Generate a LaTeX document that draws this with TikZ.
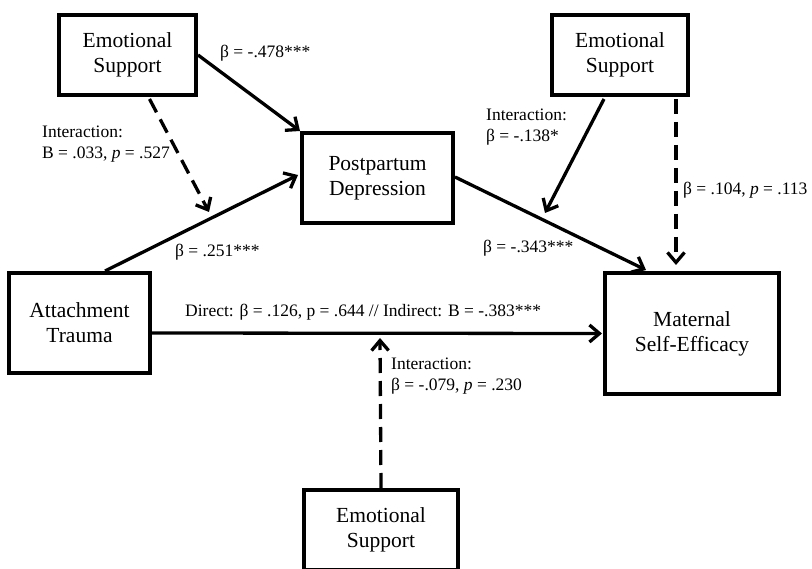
\documentclass[tikz,border=0pt]{standalone}
\usepackage{fontspec}
\setmainfont{Liberation Serif}
\usetikzlibrary{arrows.meta,calc}
\begin{document}
\begin{tikzpicture}[x=1pt,y=-1pt,
 box/.style={draw, line width=4pt, align=center, inner sep=0pt, font=\fontsize{21.5}{25}\selectfont},
 lbl/.style={anchor=west, align=left, inner sep=0pt, font=\fontsize{17.5}{21.5}\selectfont},
 arr/.style={line width=3.3pt, -{Straight Barb[length=10pt,width=17pt]}},
 dsh/.style={arr, dash pattern=on 15pt off 8pt}]
\clip (0,0) rectangle (812,569);
\fill[white] (0,0) rectangle (812,569);

\node[box, minimum width=137pt, minimum height=80pt] (es1) at (127.5,55) {Emotional\\Support};
\node[box, minimum width=151pt, minimum height=90pt] (ppd) at (377.5,178) {Postpartum\\Depression};
\node[box, minimum width=136pt, minimum height=80pt] (es2) at (620,55) {Emotional\\Support};
\node[box, minimum width=141pt, minimum height=100pt] (at) at (79.5,323) {Attachment\\Trauma};
\node[box, minimum width=174pt, minimum height=121pt] (mse) at (692,333.5) {Maternal\\Self-Efficacy};
\node[box, minimum width=154pt, minimum height=80pt] (es3) at (381,530) {Emotional\\Support};

\coordinate (c1) at (209,212);
\coordinate (c2) at (545,213);
\coordinate (c3) at (380,338);

\draw[arr] (es1.east) -- (ppd.north west);
\draw[dsh] ($(es1.south)+(22,2)$) -- (c1);
\draw[arr] ($(at.north)+(25.5,0)$) -- ($(ppd.west)+(-2,-3)$);
\draw[arr] ($(ppd.east)+(0,-1)$) -- ($(mse.north west)+(43,-1)$);
\draw[arr] ($(es2.south)+(-16,2)$) -- (c2);
\draw[dsh] ($(es2.south)+(56,2)$) -- ($(mse.north)+(-16,-6)$);
\draw[arr] ($(at.east)+(0,10)$) -- ($(mse.west)+(-1,0)$);
\draw[dsh] (es3.north) -- (c3);

\node[lbl] (l1) at (220,53) {β = -.478***};
\node[lbl] (l2) at (42,144) {Interaction:\\B = .033, \textit{p} = .527};
\node[lbl] (l3) at (175,252) {β = .251***};
\node[lbl] (l4) at (483,248) {β = -.343***};
\node[lbl] (l5) at (486,127) {Interaction:\\β = -.138*};
\node[lbl] (l6) at (683,190) {β = .104, \textit{p} = .113};
\node[lbl] (l7) at (185,312) {Direct: β = .126, p = .644 // Indirect: B = -.383***};
\node[lbl] (l8) at (391,376) {Interaction:\\β = -.079, \textit{p} = .230};
\end{tikzpicture}
\end{document}
